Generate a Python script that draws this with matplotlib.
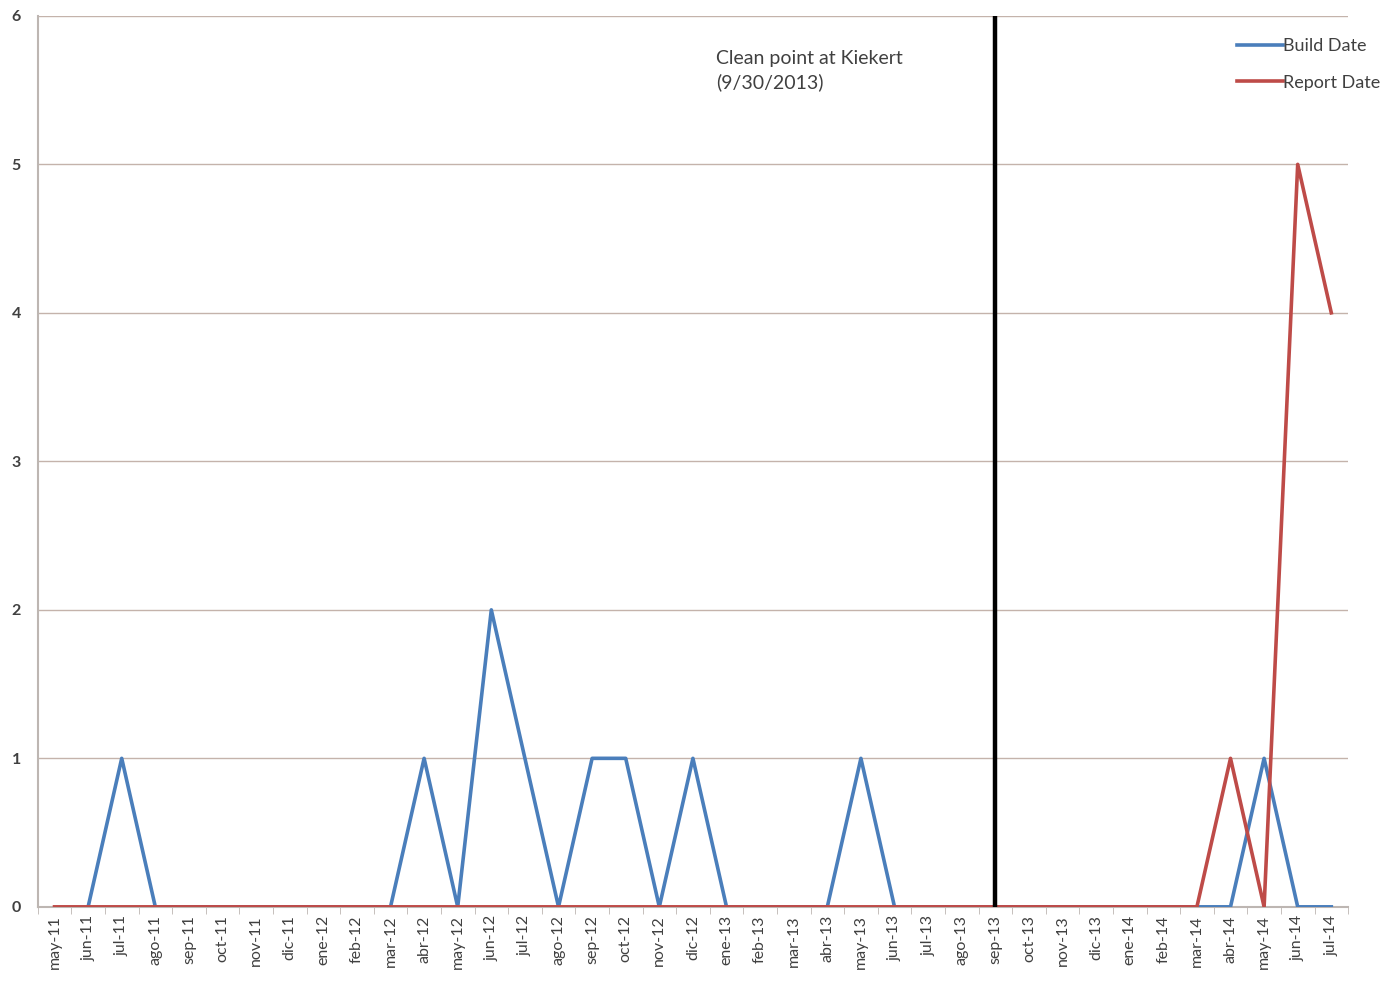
import matplotlib
matplotlib.use("Agg")
import matplotlib.pyplot as plt

plt.rcParams['font.family'] = ['Lato', 'DejaVu Sans']

months = ["may-11", "jun-11", "jul-11", "ago-11", "sep-11", "oct-11", "nov-11", "dic-11",
          "ene-12", "feb-12", "mar-12", "abr-12", "may-12", "jun-12", "jul-12", "ago-12",
          "sep-12", "oct-12", "nov-12", "dic-12", "ene-13", "feb-13", "mar-13", "abr-13",
          "may-13", "jun-13", "jul-13", "ago-13", "sep-13", "oct-13", "nov-13", "dic-13",
          "ene-14", "feb-14", "mar-14", "abr-14", "may-14", "jun-14", "jul-14"]

build_date = [0, 0, 1, 0, 0, 0, 0, 0,
              0, 0, 0, 1, 0, 2, 1, 0,
              1, 1, 0, 1, 0, 0, 0, 0,
              1, 0, 0, 0, 0, 0, 0, 0,
              0, 0, 0, 0, 1, 0, 0]

report_date = [0, 0, 0, 0, 0, 0, 0, 0,
               0, 0, 0, 0, 0, 0, 0, 0,
               0, 0, 0, 0, 0, 0, 0, 0,
               0, 0, 0, 0, 0, 0, 0, 0,
               0, 0, 0, 1, 0, 5, 4]

clean_point = "sep-13"
clean_label = "Clean point at Kiekert\n(9/30/2013)"

grid_col = "#c4b3ab"
axis_col = "#bdb6b2"
text_col = "#404040"

fig = plt.figure(figsize=(13.97, 9.9), dpi=100)
ax = fig.add_axes([0.027, 0.084, 0.938, 0.9])

x = list(range(len(months)))
ax.plot(x[1:], build_date[1:], color="#4a7ebb", lw=2.6, label="Build Date", zorder=3)
ax.plot(x, report_date, color="#be4b48", lw=2.6, label="Report Date", zorder=4)

xc = months.index(clean_point)
ax.plot([xc, xc], [0, 6], color="black", lw=3.2, zorder=5)
ax.text(19.7, 5.49, clean_label, fontsize=14, color=text_col, va="bottom", ha="left",
        linespacing=1.45)

ax.set_xlim(-0.5, len(months) - 0.5)
ax.set_ylim(0, 6)
ax.set_yticks(range(0, 7))
ax.yaxis.grid(True, color=grid_col, lw=1.0)
ax.set_axisbelow(True)

ax.set_xticks(x)
ax.set_xticklabels(months, rotation=90, fontsize=11.5, color=text_col)
ax.set_xticks([i - 0.5 for i in range(len(months) + 1)], minor=True)
ax.tick_params(axis="x", which="major", length=0, pad=6)
ax.tick_params(axis="x", which="minor", length=5, color=axis_col, direction="out")
ax.tick_params(axis="y", length=0, labelsize=11.5, labelcolor=text_col, pad=12)
for lab in ax.get_yticklabels():
    lab.set_fontweight("bold")

for s in ["top", "right"]:
    ax.spines[s].set_visible(False)
ax.spines["left"].set_color(axis_col)
ax.spines["bottom"].set_color(axis_col)
ax.spines["left"].set_linewidth(1.5)
ax.spines["bottom"].set_linewidth(1.5)

leg = fig.legend(loc="upper right", bbox_to_anchor=(1.0, 0.978), frameon=False,
                 fontsize=13, handlelength=2.6, handletextpad=0.0, labelspacing=1.15,
                 labelcolor=text_col)

fig.savefig("out.png", dpi=100)
